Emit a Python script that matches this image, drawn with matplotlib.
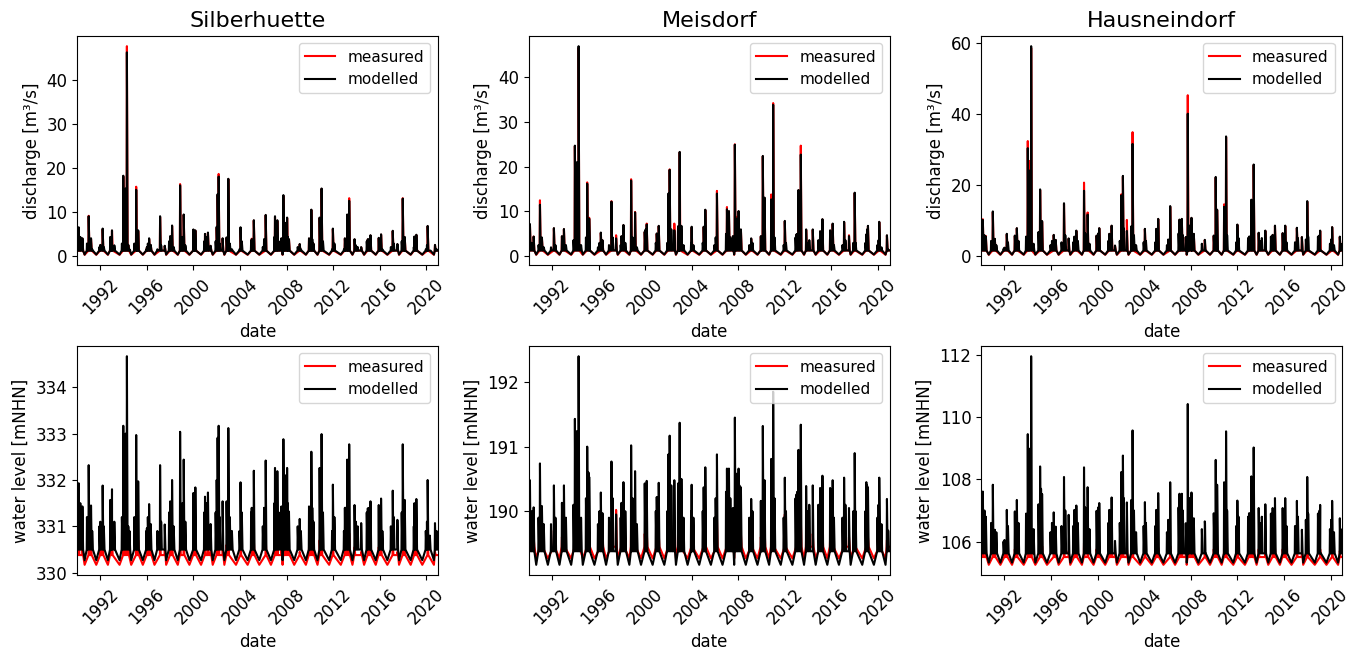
import numpy as np
import pandas as pd
import matplotlib
matplotlib.use('Agg')
import matplotlib.pyplot as plt
import matplotlib.dates as mdates

plt.rcParams['font.size'] = 12

stations = ['Silberhuette', 'Meisdorf', 'Hausneindorf']

# flood events (decimal years) with peak values
t_sil = [1990.14, 1990.46, 1991.00, 1991.20, 1992.00, 1992.20, 1992.85, 1993.00, 1993.97, 1994.17,
         1994.28, 1994.40, 1995.08, 1995.25, 1996.00, 1996.19, 1996.33, 1997.13, 1997.53, 1998.00,
         1998.16, 1998.85, 1999.16, 1999.99, 2000.16, 2000.99, 2001.24, 2001.47, 2001.99, 2002.07,
         2002.16, 2002.50, 2002.84, 2002.99, 2004.04, 2005.00, 2005.18, 2006.20, 2007.00, 2007.20,
         2007.55, 2007.72, 2007.92, 2008.04, 2008.20, 2009.12, 2009.92, 2010.12, 2010.30, 2010.83,
         2011.00, 2011.97, 2013.00, 2013.20, 2013.37, 2013.83, 2014.40, 2014.97, 2015.20, 2015.91,
         2016.11, 2017.11, 2017.51, 2017.97, 2018.14, 2018.97, 2019.14, 2020.11, 2020.74]
q_sim_sil = [6.5, 4.0, 9.0, 4.0, 2.5, 6.2, 4.3, 5.8, 18.2, 15.3,
             46.2, 2.5, 15.0, 5.8, 2.0, 4.0, 2.5, 9.0, 2.3, 4.5,
             6.9, 16.0, 9.4, 6.0, 5.8, 5.0, 5.3, 2.3, 6.6, 14.0,
             18.0, 4.0, 4.2, 17.5, 6.5, 3.8, 8.1, 9.3, 9.0, 8.1,
             4.0, 13.8, 7.5, 8.7, 3.8, 2.7, 4.0, 10.5, 2.8, 8.7,
             15.3, 6.2, 4.0, 9.4, 12.5, 3.8, 2.0, 3.8, 4.7, 4.1,
             4.9, 5.7, 2.7, 13.0, 4.3, 4.4, 4.8, 6.8, 2.5]
q_obs_sil = [6.3, 3.9, 9.1, 3.8, 2.4, 6.0, 4.1, 5.7, 18.0, 15.0,
             47.6, 2.4, 15.7, 5.6, 1.9, 3.8, 2.4, 8.8, 2.2, 4.3,
             6.8, 16.3, 9.3, 5.9, 5.7, 4.9, 5.2, 2.2, 6.4, 13.8,
             18.6, 3.9, 4.0, 17.4, 6.3, 3.9, 8.0, 9.2, 8.8, 7.9,
             3.9, 13.6, 7.3, 8.6, 3.7, 2.6, 3.9, 10.4, 2.7, 8.6,
             15.2, 6.1, 3.9, 9.2, 13.1, 3.7, 1.9, 3.7, 4.6, 4.0,
             4.8, 5.6, 2.6, 13.1, 4.2, 4.3, 4.7, 6.7, 2.4]
h_sim_sil = [331.93, 331.43, 332.32, 331.45, 331.10, 331.88, 331.57, 331.80, 333.17, 333.00,
             334.67, 331.00, 332.97, 331.97, 330.96, 331.48, 331.05, 332.32, 331.04, 331.54,
             332.00, 333.04, 332.44, 331.72, 331.84, 331.64, 331.73, 331.05, 332.00, 332.91,
             333.17, 331.54, 331.54, 333.12, 331.95, 331.40, 332.20, 332.42, 332.26, 332.19,
             331.43, 332.88, 332.10, 332.26, 331.32, 331.16, 331.43, 332.61, 331.10, 332.26,
             332.99, 331.90, 331.40, 332.44, 332.77, 331.46, 331.07, 331.39, 331.54, 331.46,
             331.60, 331.77, 331.14, 332.77, 331.57, 331.50, 331.59, 332.00, 331.07]
h_obs_sil = [330.75, 330.60, 330.80, 330.60, 330.50, 330.70, 330.60, 330.70, 330.95, 330.90,
             331.05, 330.55, 330.90, 330.70, 330.50, 330.60, 330.50, 330.75, 330.50, 330.60,
             330.70, 330.85, 330.75, 330.65, 330.65, 330.60, 330.65, 330.45, 330.65, 330.85,
             330.90, 330.55, 330.60, 330.90, 330.70, 330.55, 330.70, 330.75, 330.75, 330.70,
             330.55, 330.85, 330.70, 330.75, 330.50, 330.45, 330.55, 330.80, 330.45, 330.70,
             330.90, 330.65, 330.55, 330.75, 330.85, 330.55, 330.45, 330.55, 330.60, 330.55,
             330.60, 330.65, 330.45, 330.80, 330.60, 330.55, 330.60, 330.70, 330.45]

t_mei = [1990.11, 1990.43, 1990.97, 1991.14, 1992.17, 1992.86, 1993.03, 1993.97, 1994.14, 1994.29,
         1995.03, 1995.20, 1996.20, 1996.34, 1997.11, 1997.51, 1997.97, 1998.14, 1998.80, 1999.14,
         1999.97, 2000.14, 2001.00, 2001.17, 2002.00, 2002.11, 2002.51, 2002.83, 2002.97, 2004.00,
         2005.03, 2005.17, 2006.17, 2007.03, 2007.20, 2007.54, 2007.71, 2007.86, 2008.03, 2008.23,
         2009.11, 2009.94, 2010.11, 2010.26, 2010.83, 2011.00, 2012.00, 2013.00, 2013.17, 2013.37,
         2013.83, 2014.40, 2015.03, 2015.23, 2015.89, 2016.11, 2017.09, 2017.51, 2018.00, 2019.00,
         2019.14, 2020.11, 2020.77]
q_sim_mei = [7.2, 4.4, 11.5, 4.2, 6.3, 4.5, 6.1, 24.7, 21.0, 46.9,
             16.2, 8.4, 5.3, 3.6, 12.2, 4.0, 4.5, 7.0, 16.9, 9.8,
             5.5, 7.1, 5.1, 6.8, 14.0, 19.3, 5.8, 6.7, 23.3, 6.6,
             6.6, 10.4, 14.0, 10.5, 10.1, 4.5, 24.9, 8.4, 10.1, 6.0,
             4.0, 4.5, 22.4, 13.1, 12.7, 33.8, 7.9, 4.9, 14.8, 22.7,
             6.0, 6.0, 5.6, 8.3, 5.8, 7.3, 7.7, 4.5, 14.2, 4.9,
             6.8, 7.7, 4.7]
q_obs_mei = [7.0, 4.4, 12.5, 4.0, 6.2, 4.4, 6.0, 24.6, 20.8, 46.5,
             16.5, 8.6, 5.2, 3.5, 12.3, 4.7, 4.4, 6.9, 17.2, 9.9,
             5.4, 7.3, 5.0, 6.7, 13.8, 19.4, 7.3, 6.6, 23.2, 6.4,
             6.5, 10.3, 14.6, 11.0, 10.0, 4.4, 25.0, 8.8, 10.0, 5.9,
             3.9, 4.4, 22.3, 13.0, 13.8, 34.2, 7.8, 4.8, 14.7, 24.7,
             5.9, 5.9, 5.5, 8.2, 5.7, 7.2, 7.6, 4.7, 14.1, 4.8,
             6.7, 7.6, 4.6]
h_sim_mei = [190.48, 190.06, 190.74, 190.08, 190.40, 190.13, 190.40, 191.43, 191.24, 192.40,
             191.00, 190.53, 190.29, 189.97, 190.77, 189.95, 190.13, 190.45, 191.02, 190.62,
             190.43, 190.47, 190.22, 190.44, 190.88, 191.17, 190.48, 190.43, 191.37, 190.41,
             190.37, 190.68, 190.88, 190.66, 190.66, 190.05, 191.45, 190.58, 190.66, 190.37,
             190.19, 190.16, 191.32, 190.48, 190.81, 191.85, 190.52, 190.26, 190.95, 191.34,
             190.39, 190.40, 190.36, 190.55, 190.36, 190.48, 190.52, 190.05, 190.90, 190.45,
             190.37, 190.52, 190.19]
h_obs_mei = [189.75, 189.60, 189.90, 189.60, 189.70, 189.60, 189.70, 189.85, 189.80, 189.95,
             189.80, 189.70, 189.65, 189.60, 189.80, 190.02, 189.60, 189.70, 189.85, 189.70,
             189.65, 189.70, 189.60, 189.65, 189.75, 189.85, 189.80, 189.65, 189.90, 189.65,
             189.65, 189.75, 189.90, 189.75, 189.75, 189.60, 189.90, 189.70, 189.75, 189.65,
             189.60, 189.60, 189.95, 189.75, 189.80, 189.95, 189.95, 189.60, 189.80, 189.90,
             189.65, 189.65, 189.60, 189.70, 189.60, 189.65, 189.70, 189.60, 189.85, 189.65,
             189.60, 189.65, 189.55]

t_hau = [1990.14, 1990.40, 1991.00, 1991.17, 1992.00, 1992.20, 1992.89, 1993.06, 1994.00, 1994.14,
         1994.29, 1995.06, 1995.23, 1996.23, 1996.40, 1997.11, 1997.51, 1998.00, 1998.17, 1998.83,
         1999.14, 1999.91, 2000.14, 2001.00, 2001.20, 2001.49, 2002.03, 2002.17, 2002.51, 2002.89,
         2003.00, 2004.06, 2005.03, 2005.20, 2006.23, 2007.03, 2007.23, 2007.57, 2007.74, 2007.89,
         2008.06, 2008.26, 2009.20, 2009.97, 2010.14, 2010.26, 2010.86, 2011.03, 2012.00, 2013.00,
         2013.20, 2013.40, 2013.83, 2014.40, 2015.03, 2015.23, 2015.89, 2016.11, 2017.11, 2017.54,
         2018.00, 2019.11, 2020.14, 2020.80]
q_sim_hau = [10.1, 5.4, 12.5, 4.8, 2.3, 6.2, 5.7, 7.8, 30.3, 24.0,
             59.0, 18.7, 9.8, 5.9, 4.5, 14.8, 4.9, 5.4, 7.1, 18.3,
             11.6, 5.7, 7.8, 6.2, 8.5, 2.9, 17.0, 22.5, 7.0, 8.3,
             31.5, 7.6, 7.6, 10.4, 14.0, 10.2, 10.4, 5.3, 40.0, 8.5,
             10.7, 6.2, 4.5, 5.7, 22.2, 13.0, 13.8, 33.6, 8.8, 5.4,
             15.8, 25.7, 6.5, 7.1, 5.9, 8.5, 6.4, 8.5, 7.9, 5.3,
             15.4, 7.1, 8.1, 5.4]
q_obs_hau = [10.3, 5.6, 12.3, 4.7, 2.2, 6.0, 5.6, 7.7, 32.3, 26.7,
             58.5, 18.5, 9.6, 5.8, 4.4, 14.6, 4.8, 5.3, 7.0, 20.6,
             12.2, 5.6, 7.7, 6.1, 8.4, 2.8, 17.3, 22.3, 10.1, 8.2,
             34.8, 7.5, 7.5, 10.3, 13.8, 10.1, 10.3, 5.2, 45.2, 8.4,
             10.6, 6.1, 4.4, 5.6, 22.0, 12.9, 14.5, 33.4, 8.7, 5.3,
             15.6, 25.5, 6.4, 7.0, 5.8, 8.4, 6.3, 8.4, 7.8, 5.2,
             15.2, 7.0, 8.0, 5.3]
h_sim_hau = [107.61, 106.80, 107.83, 106.38, 106.05, 107.02, 106.97, 107.34, 109.46, 108.99,
             111.97, 108.42, 107.53, 106.94, 106.48, 108.08, 106.86, 107.02, 107.16, 108.39,
             107.75, 106.99, 107.24, 107.02, 107.42, 106.02, 108.24, 108.77, 107.26, 107.34,
             109.58, 107.27, 107.02, 107.56, 107.91, 107.54, 107.54, 106.59, 110.43, 107.40,
             107.58, 106.75, 106.65, 106.91, 108.63, 107.83, 107.91, 109.55, 107.32, 106.91,
             108.10, 109.03, 107.08, 107.20, 107.08, 107.40, 107.08, 107.40, 107.31, 106.38,
             108.08, 107.18, 107.31, 106.75]
h_obs_hau = [105.90, 105.75, 105.95, 105.70, 105.60, 105.80, 105.75, 105.85, 106.05, 106.00,
             106.15, 105.95, 105.85, 105.75, 105.65, 105.90, 105.70, 105.75, 105.80, 105.95,
             105.85, 105.75, 105.80, 105.75, 105.80, 105.60, 105.90, 106.00, 105.80, 105.80,
             106.00, 105.80, 105.75, 105.80, 105.85, 105.80, 105.80, 105.70, 106.05, 105.80,
             105.85, 105.70, 105.65, 105.75, 105.95, 105.85, 105.90, 106.00, 105.80, 105.70,
             105.85, 105.95, 105.75, 105.80, 105.75, 105.80, 105.75, 105.80, 105.80, 105.65,
             105.90, 105.75, 105.80, 105.70]

# smaller winter spikes of the modelled series (same dates at all three gauges)
t_minor = [1990.28, 1990.85, 1991.30, 1991.92, 1992.30, 1992.95, 1993.20, 1993.85, 1994.06, 1994.50,
           1994.92, 1995.14, 1995.95, 1996.08, 1996.90, 1997.22, 1997.90, 1998.30, 1998.93, 1999.05,
           1999.30, 2000.05, 2000.92, 2001.10, 2001.90, 2002.25, 2002.92, 2003.12, 2003.30, 2003.95,
           2004.15, 2004.95, 2005.10, 2005.95, 2006.06, 2006.95, 2007.10, 2007.32, 2007.80, 2008.10,
           2008.95, 2009.22, 2009.98, 2010.20, 2010.92, 2011.12, 2011.90, 2012.10, 2012.92, 2013.06,
           2013.27, 2013.95, 2014.10, 2014.88, 2015.10, 2015.96, 2016.22, 2016.95, 2017.20, 2017.88,
           2018.08, 2018.92, 2019.06, 2019.95, 2020.05, 2020.30, 2020.88]
q_minor_sil = [4.3, 2.8, 1.5, 2.0, 2.0, 3.3, 2.4, 2.8, 6.5, 1.5,
               2.8, 4.3, 1.5, 2.8, 1.5, 2.4, 3.3, 2.0, 3.3, 4.3,
               2.4, 4.9, 3.3, 4.3, 3.3, 2.8, 3.8, 2.8, 1.5, 1.5,
               3.3, 3.3, 2.8, 2.0, 3.8, 4.3, 4.3, 3.3, 4.3, 4.3,
               2.0, 1.5, 2.0, 3.8, 4.9, 3.3, 1.5, 2.8, 1.5, 3.8,
               3.3, 2.4, 2.0, 3.3, 3.8, 2.8, 1.5, 2.0, 2.8, 3.3,
               2.8, 2.0, 3.3, 1.5, 2.4, 1.2, 1.5]
h_minor_sil = [331.5, 331.2, 330.9, 331.0, 331.0, 331.3, 331.1, 331.2, 332.0, 330.9,
               331.2, 331.5, 330.9, 331.2, 330.9, 331.1, 331.3, 331.0, 331.3, 331.5,
               331.1, 331.6, 331.3, 331.5, 331.3, 331.2, 331.4, 331.2, 330.9, 330.9,
               331.3, 331.3, 331.2, 331.0, 331.4, 331.5, 331.5, 331.3, 331.5, 331.5,
               331.0, 330.9, 331.0, 331.4, 331.6, 331.3, 330.9, 331.2, 330.9, 331.4,
               331.3, 331.1, 331.0, 331.3, 331.4, 331.2, 330.9, 331.0, 331.2, 331.3,
               331.2, 331.0, 331.3, 330.9, 331.1, 330.8, 330.9]
q_minor_mei = [3.0, 2.5, 2.0, 2.0, 2.5, 3.0, 2.5, 3.6, 6.8, 2.5,
               4.2, 7.8, 2.0, 3.0, 2.5, 4.2, 2.5, 3.0, 4.2, 3.6,
               2.0, 6.0, 3.0, 4.2, 3.0, 6.0, 3.6, 6.8, 2.5, 3.0,
               2.5, 3.0, 4.2, 2.5, 4.2, 5.0, 6.8, 4.2, 6.8, 6.0,
               2.5, 3.0, 3.0, 6.0, 7.8, 4.2, 2.5, 3.0, 4.2, 5.0,
               7.8, 3.0, 3.6, 3.6, 5.0, 3.0, 2.5, 2.5, 3.6, 3.0,
               3.0, 3.0, 6.0, 2.5, 3.6, 2.0, 1.5]
h_minor_mei = [190.0, 189.9, 189.8, 189.8, 189.9, 190.0, 189.9, 190.1, 190.5, 189.9,
               190.2, 190.6, 189.8, 190.0, 189.9, 190.2, 189.9, 190.0, 190.2, 190.1,
               189.8, 190.4, 190.0, 190.2, 190.0, 190.4, 190.1, 190.5, 189.9, 190.0,
               189.9, 190.0, 190.2, 189.9, 190.2, 190.3, 190.5, 190.2, 190.5, 190.4,
               189.9, 190.0, 190.0, 190.4, 190.6, 190.2, 189.9, 190.0, 190.2, 190.3,
               190.6, 190.0, 190.1, 190.1, 190.3, 190.0, 189.9, 189.9, 190.1, 190.0,
               190.0, 190.0, 190.4, 189.9, 190.1, 189.8, 189.7]
q_minor_hau = [5.8, 4.2, 3.0, 2.0, 3.8, 5.0, 4.2, 5.4, 9.8, 3.4,
               6.7, 9.3, 3.0, 4.2, 3.8, 5.8, 3.8, 4.2, 6.3, 5.4,
               3.4, 6.3, 4.2, 5.4, 4.2, 7.7, 5.4, 5.8, 3.0, 3.8,
               4.2, 3.8, 5.4, 3.0, 4.6, 6.3, 8.2, 5.8, 7.2, 6.7,
               3.4, 4.2, 4.6, 6.7, 7.7, 5.8, 3.8, 5.0, 5.0, 5.4,
               8.7, 4.2, 5.0, 5.4, 5.4, 4.2, 3.8, 3.8, 5.0, 4.6,
               5.4, 5.4, 5.8, 3.4, 4.6, 3.0, 3.4]
h_minor_hau = [107.0, 106.6, 106.3, 106.0, 106.5, 106.8, 106.6, 106.9, 107.8, 106.4,
               107.2, 107.7, 106.3, 106.6, 106.5, 107.0, 106.5, 106.6, 107.1, 106.9,
               106.4, 107.1, 106.6, 106.9, 106.6, 107.4, 106.9, 107.0, 106.3, 106.5,
               106.6, 106.5, 106.9, 106.3, 106.7, 107.1, 107.5, 107.0, 107.3, 107.2,
               106.4, 106.6, 106.7, 107.2, 107.4, 107.0, 106.5, 106.8, 106.8, 106.9,
               107.6, 106.6, 106.8, 106.9, 106.9, 106.6, 106.5, 106.5, 106.8, 106.7,
               106.9, 106.9, 107.0, 106.4, 106.7, 106.3, 106.4]

# winter level and summer low between events, per station
q_foot = [1.2, 1.3, 1.5]
q_low = [0.3, 0.4, 0.35]
h_foot_sim = [330.50, 189.38, 105.62]
h_low_sim = [330.27, 189.17, 105.32]
h_foot_obs = [330.38, 189.45, 105.50]
h_low_obs = [330.17, 189.27, 105.25]


def to_dates(t):
    t = np.asarray(t, dtype=float)
    yr = np.floor(t).astype(int)
    d = pd.to_datetime([f'{y}-01-01' for y in yr])
    return d + pd.to_timedelta((t - yr) * 365.25, unit='D')


def hydrograph(t_ev, peaks, foot, low):
    pts = [(y + 0.65, low) for y in range(1990, 2021)]
    pts += [(1990.0, foot), (2020.999, foot)]
    for t, p in zip(t_ev, peaks):
        pts += [(t - 0.02, foot), (t, p), (t + 0.06, foot)]
    pts.sort()
    tt = [p[0] for p in pts]
    vv = [p[1] for p in pts]
    return to_dates(tt), vv


events = [t_sil, t_mei, t_hau]
q_obs = [q_obs_sil, q_obs_mei, q_obs_hau]
q_sim = [q_sim_sil, q_sim_mei, q_sim_hau]
h_obs = [h_obs_sil, h_obs_mei, h_obs_hau]
h_sim = [h_sim_sil, h_sim_mei, h_sim_hau]
q_minor = [q_minor_sil, q_minor_mei, q_minor_hau]
h_minor = [h_minor_sil, h_minor_mei, h_minor_hau]

fig = plt.figure(figsize=(13.59, 6.5), dpi=100)
lefts = [0.0567, 0.389, 0.722]
w, h = 0.2656, 0.353

for i, name in enumerate(stations):
    ax1 = fig.add_axes([lefts[i], 0.592, w, h])
    ax2 = fig.add_axes([lefts[i], 0.115, w, h])
    t_all = events[i] + t_minor

    x, y = hydrograph(events[i], q_obs[i], q_foot[i], q_low[i] * 0.85)
    ax1.plot(x, y, color='red', lw=1.5, label='measured')
    x, y = hydrograph(t_all, q_sim[i] + q_minor[i], q_foot[i], q_low[i])
    ax1.plot(x, y, color='black', lw=1.5, label='modelled')
    ax1.set_title(name, fontsize=16)
    ax1.set_ylabel('discharge [m³/s]')

    x, y = hydrograph(events[i], h_obs[i], h_foot_obs[i], h_low_obs[i])
    ax2.plot(x, y, color='red', lw=1.5, label='measured')
    x, y = hydrograph(t_all, h_sim[i] + h_minor[i], h_foot_sim[i], h_low_sim[i])
    ax2.plot(x, y, color='black', lw=1.5, label='modelled')
    ax2.set_ylabel('water level [mNHN]')

    for ax in (ax1, ax2):
        ax.set_xlim(pd.Timestamp('1990-01-01'), pd.Timestamp('2020-12-31'))
        ax.xaxis.set_major_locator(mdates.YearLocator(4))
        ax.xaxis.set_major_formatter(mdates.DateFormatter('%Y'))
        ax.tick_params(axis='x', labelrotation=45)
        ax.set_xlabel('date')
        ax.legend(loc='upper right', fontsize=11)

fig.savefig('out.png', dpi=100)
